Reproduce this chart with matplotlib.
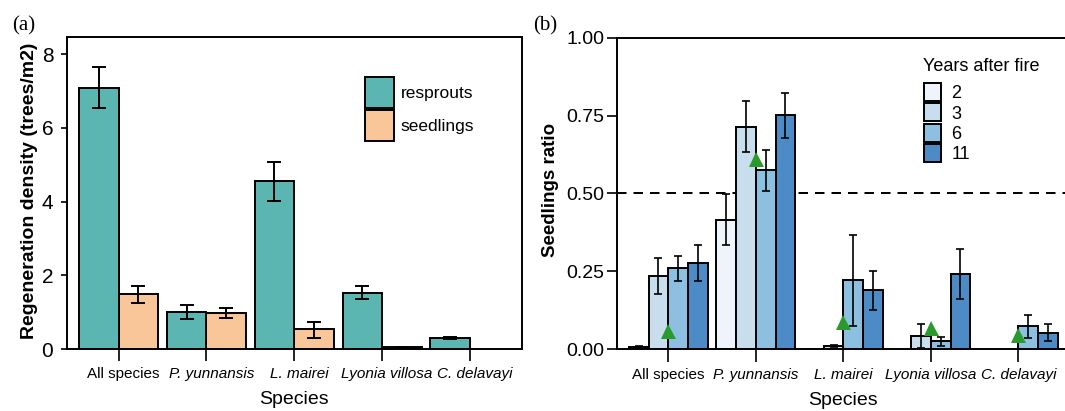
import numpy as np
import matplotlib
matplotlib.use("Agg")
import matplotlib.pyplot as plt
from matplotlib.transforms import ScaledTranslation

plt.rcParams['font.family'] = ['Liberation Sans', 'DejaVu Sans']

# ---------------- data ----------------
species = ["All species", "P. yunnansis", "L. mairei", "Lyonia villosa", "C. delavayi"]
species_italic = [False, True, True, True, True]

# panel (a): regeneration density (trees/m2)
resprouts = [7.07, 1.01, 4.56, 1.53, 0.29]
resprouts_lo = [6.53, 0.82, 4.01, 1.35, 0.26]
resprouts_hi = [7.64, 1.20, 5.07, 1.71, 0.33]
seedlings = [1.48, 0.98, 0.53, 0.045, np.nan]
seedlings_lo = [1.25, 0.84, 0.30, 0.03, np.nan]
seedlings_hi = [1.70, 1.12, 0.74, 0.06, np.nan]

# panel (b): seedlings ratio by years after fire
years = ["2", "3", "6", "11"]
ratio_y2 = [0.006, 0.415, 0.002, np.nan, np.nan]
ratio_y2_lo = [0.004, 0.336, np.nan, np.nan, np.nan]
ratio_y2_hi = [0.009, 0.497, np.nan, np.nan, np.nan]
ratio_y3 = [0.235, 0.714, 0.010, 0.043, np.nan]
ratio_y3_lo = [0.178, 0.633, 0.006, 0.003, np.nan]
ratio_y3_hi = [0.292, 0.798, 0.014, 0.080, np.nan]
ratio_y6 = [0.260, 0.575, 0.222, 0.025, 0.073]
ratio_y6_lo = [0.220, 0.509, 0.073, 0.011, 0.035]
ratio_y6_hi = [0.300, 0.639, 0.368, 0.038, 0.110]
ratio_y11 = [0.278, 0.752, 0.190, 0.241, 0.053]
ratio_y11_lo = [0.220, 0.677, 0.126, 0.160, 0.025]
ratio_y11_hi = [0.335, 0.821, 0.250, 0.321, 0.081]
overall_ratio = [0.057, 0.611, 0.087, 0.067, 0.046]

# ---------------- style ----------------
teal = "#5BB5B0"
peach = "#F8C699"
blues = ["#EFF3FC", "#C8DEEC", "#8DC0E0", "#4C8BC6"]
green = "#2A9A2C"
edge_lw = 1.4

fig = plt.figure(figsize=(10.65, 4.11), dpi=100)
W, H = 1065.0, 411.0
axa = fig.add_axes([66.7 / W, (H - 349.0) / H, (521.7 - 66.7) / W, (349.0 - 36.7) / H])
axb = fig.add_axes([616.7 / W, (H - 349.2) / H, (1070.0 - 616.7) / W, (349.2 - 37.7) / H])

x = np.arange(len(species))


def draw_bars(ax, xpos, vals, lo, hi, width, color, label, capsize, elw):
    vals = np.asarray(vals, float)
    lo = np.asarray(lo, float)
    hi = np.asarray(hi, float)
    m = ~np.isnan(vals)
    bars = ax.bar(xpos[m], vals[m], width=width, color=color, edgecolor="black",
                  linewidth=edge_lw, label=label, zorder=2)
    me = m & ~np.isnan(lo)
    ax.errorbar(xpos[me], vals[me], yerr=[vals[me] - lo[me], hi[me] - vals[me]],
                fmt="none", ecolor="black", elinewidth=elw, capsize=capsize,
                capthick=elw, zorder=3)
    return bars


# ---------------- panel (a) ----------------
bw = 0.45
ba1 = draw_bars(axa, x - bw / 2, resprouts, resprouts_lo, resprouts_hi, bw, teal,
                "resprouts", 5.0, 1.4)
ba2 = draw_bars(axa, x + bw / 2, seedlings, seedlings_lo, seedlings_hi, bw, peach,
                "seedlings", 5.0, 1.4)
axa.set_xlim(-0.59, 4.59)
axa.set_ylim(0, 8.47)
axa.set_yticks([0, 2, 4, 6, 8])
axa.set_xticks(x)
axa.set_xticklabels(species)
axa.tick_params(axis="y", length=4.3, width=1.2, pad=5.3, labelsize=15)
axa.tick_params(axis="x", length=8.6, width=1.2, pad=4.0, labelsize=11)
for sp in axa.spines.values():
    sp.set_linewidth(1.4)
axa.set_ylabel("Regeneration density (trees/m2)", fontsize=14.0, fontweight="bold")
axa.yaxis.set_label_coords(-0.063, 0.505)
axa.set_xlabel("Species", fontsize=14)
axa.xaxis.set_label_coords(0.5, -0.134)
axa.xaxis.label.set_va("top")
axa.legend(loc="upper left", bbox_to_anchor=(0.6556, 0.8716), frameon=False,
           fontsize=12.5, handlelength=1.653, handleheight=2.353, labelspacing=0.14,
           handletextpad=0.39, borderpad=0, borderaxespad=0)
fig.text(12 / W, 1 - 30.5 / H, "(a)", family="Liberation Serif", fontsize=15,
         ha="left", va="baseline")
shift = ScaledTranslation(5 / 100, 0, fig.dpi_scale_trans)
for lab in axa.get_xticklabels():
    lab.set_transform(lab.get_transform() + shift)

# ---------------- panel (b) ----------------
bwb = 0.225
offsets = [-1.5 * bwb, -0.5 * bwb, 0.5 * bwb, 1.5 * bwb]
series = [(ratio_y2, ratio_y2_lo, ratio_y2_hi), (ratio_y3, ratio_y3_lo, ratio_y3_hi),
          (ratio_y6, ratio_y6_lo, ratio_y6_hi), (ratio_y11, ratio_y11_lo, ratio_y11_hi)]
bhandles = []
for i, (v, lo, hi) in enumerate(series):
    h = draw_bars(axb, x + offsets[i], v, lo, hi, bwb, blues[i], years[i], 2.6, 1.2)
    bhandles.append(h)
axb.axhline(0.5, color="black", lw=1.44, ls=(0, (4.75, 3.5)), zorder=1)
axb.plot(x, overall_ratio, ls="none", marker="^", ms=10.8, color=green,
         markeredgewidth=0, zorder=4)
axb.set_xlim(-0.59, 4.59)
axb.set_ylim(0, 1.0)
axb.set_yticks([0, 0.25, 0.5, 0.75, 1.0])
axb.set_yticklabels(["0.00", "0.25", "0.50", "0.75", "1.00"])
axb.set_xticks(x)
axb.set_xticklabels(species)
axb.tick_params(axis="y", length=7.2, width=1.2, pad=1.5, labelsize=14)
axb.tick_params(axis="x", length=9.4, width=1.2, pad=4.0, labelsize=11)
for sp in axb.spines.values():
    sp.set_linewidth(1.4)
axb.set_ylabel("Seedlings ratio", fontsize=13.5, fontweight="bold")
axb.yaxis.set_label_coords(-0.127, 0.51)
axb.set_xlabel("Species", fontsize=14)
axb.xaxis.set_label_coords(0.5, -0.139)
axb.xaxis.label.set_va("top")
axb.legend(handles=bhandles, fontsize=13,
           loc="upper left", bbox_to_anchor=(0.6779, 0.8536), frameon=False,
           handlelength=0.94, handleheight=1.15, labelspacing=0.06, handletextpad=0.59,
           borderpad=0, borderaxespad=0)
axb.text(0.6757, (349.2 - 70.7) / 311.5, "Years after fire", transform=axb.transAxes,
         fontsize=13, ha="left", va="baseline")
fig.text(533 / W, 1 - 30.5 / H, "(b)", family="Liberation Serif", fontsize=15,
         ha="left", va="baseline")

for ax in (axa, axb):
    for lab, it in zip(ax.get_xticklabels(), species_italic):
        if it:
            lab.set_fontstyle("italic")

fig.savefig("out.png", dpi=100)
